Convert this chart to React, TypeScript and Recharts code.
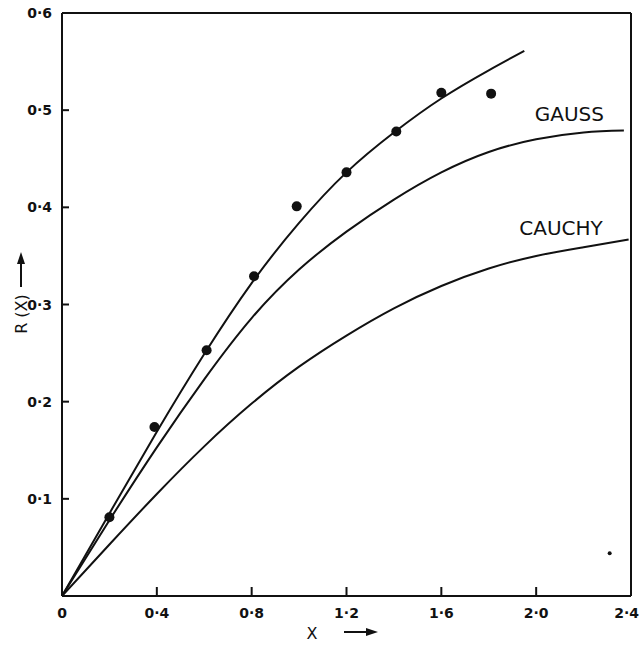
import React from 'react';
import { ComposedChart, Line, Scatter, XAxis, YAxis, ReferenceLine, ReferenceDot } from 'recharts';

// Fitted curve through experimental points
const fitX = [0, 0.2, 0.4, 0.6, 0.8, 1.0, 1.2, 1.4, 1.6, 1.8, 1.95];
const fitY = [0, 0.085, 0.169, 0.249, 0.322, 0.384, 0.436, 0.477, 0.512, 0.541, 0.561];
// Gauss curve
const gaussX = [0, 0.2, 0.4, 0.6, 0.8, 1.0, 1.2, 1.4, 1.6, 1.8, 2.0, 2.2, 2.37];
const gaussY = [0, 0.078, 0.153, 0.223, 0.286, 0.336, 0.375, 0.408, 0.436, 0.457, 0.47, 0.477, 0.479];
// Cauchy curve
const cauchyX = [0, 0.2, 0.4, 0.6, 0.8, 1.0, 1.2, 1.4, 1.6, 1.8, 2.0, 2.2, 2.39];
const cauchyY = [0, 0.053, 0.105, 0.154, 0.198, 0.236, 0.268, 0.296, 0.319, 0.337, 0.35, 0.359, 0.367];
// Observed points
const obsX = [0.2, 0.39, 0.61, 0.81, 0.99, 1.2, 1.41, 1.6, 1.81];
const obsY = [0.081, 0.174, 0.253, 0.329, 0.401, 0.436, 0.478, 0.518, 0.517];
// Stray speck in the print
const speckX = [2.31];
const speckY = [0.044];

const xTicks = [0, 0.4, 0.8, 1.2, 1.6, 2.0, 2.4];
const yTicks = [0.1, 0.2, 0.3, 0.4, 0.5, 0.6];

const zip = (xs: number[], ys: number[]) => xs.map((x, i) => ({ x, y: ys[i] }));
const fitData = zip(fitX, fitY);
const gaussData = zip(gaussX, gaussY);
const cauchyData = zip(cauchyX, cauchyY);
const obsData = zip(obsX, obsY);
const speckData = zip(speckX, speckY);

const INK = '#111';
const FONT = '"DejaVu Sans", sans-serif';

const fmt = (v: number) => (v === 0 ? '0' : v.toFixed(1).replace('.', '·'));

const XTick = (props: any) => {
  const { x, y, payload } = props;
  const v = payload.value;
  const interior = v > 0 && v < 2.4;
  const last = v >= 2.4;
  return (
    <g>
      {interior && <line x1={x} y1={y} x2={x} y2={y - 9} stroke={INK} strokeWidth={2} />}
      <text
        x={last ? x + 8 : x}
        y={y + 17}
        textAnchor={last ? 'end' : 'middle'}
        dominantBaseline="central"
        fontFamily={FONT}
        fontSize={14}
        fontWeight="bold"
        fill={INK}
      >
        {fmt(v)}
      </text>
    </g>
  );
};

const YTick = (props: any) => {
  const { x, y, payload } = props;
  const v = payload.value;
  return (
    <g>
      {v < 0.6 && <line x1={x} y1={y} x2={x + 7} y2={y} stroke={INK} strokeWidth={2} />}
      <text
        x={x - 10}
        y={y}
        textAnchor="end"
        dominantBaseline="central"
        fontFamily={FONT}
        fontSize={14}
        fontWeight="bold"
        fill={INK}
      >
        {fmt(v)}
      </text>
    </g>
  );
};

const XTitle = (props: any) => {
  const vb = props.viewBox || { x: 62, y: 596, width: 569, height: 50 };
  const cx = vb.x + 250;
  const cy = vb.y + 37;
  return (
    <g>
      <text x={cx} y={cy} textAnchor="middle" dominantBaseline="central" fontFamily={FONT} fontSize={16} fill={INK}>
        X
      </text>
      <line x1={cx + 32} y1={cy - 1} x2={cx + 56} y2={cy - 1} stroke={INK} strokeWidth={2} />
      <path d={`M${cx + 66},${cy - 1} L${cx + 54},${cy - 5} L${cx + 54},${cy + 3} Z`} fill={INK} />
    </g>
  );
};

const YTitle = (props: any) => {
  const vb = props.viewBox || { x: 0, y: 13, width: 62, height: 583 };
  const cx = vb.x + 21;
  const cy = vb.y + 301;
  return (
    <g>
      <text
        x={cx}
        y={cy}
        textAnchor="middle"
        dominantBaseline="central"
        fontFamily={FONT}
        fontSize={16}
        fill={INK}
        transform={`rotate(-90 ${cx} ${cy})`}
      >
        R (X)
      </text>
      <line x1={cx} y1={cy - 27} x2={cx} y2={cy - 52} stroke={INK} strokeWidth={2} />
      <path d={`M${cx},${cy - 62} L${cx - 4},${cy - 50} L${cx + 4},${cy - 50} Z`} fill={INK} />
    </g>
  );
};

const CurveLabel = (text: string) => (props: any) => {
  const vb = props.viewBox || {};
  return (
    <text x={vb.x} y={vb.y} textAnchor="middle" dominantBaseline="central" fontFamily={FONT} fontSize={20} fill={INK}>
      {text}
    </text>
  );
};

export default function App() {
  return (
    <div style={{ position: 'absolute', left: 0, top: 0, background: '#fff' }}>
      <ComposedChart width={640} height={646} margin={{ top: 13, right: 9, left: 0, bottom: 0 }}>
        <XAxis
          type="number"
          dataKey="x"
          domain={[0, 2.4]}
          ticks={xTicks}
          allowDataOverflow
          height={50}
          axisLine={{ stroke: INK, strokeWidth: 2 }}
          tickLine={false}
          tickSize={0}
          tickMargin={0}
          tick={<XTick />}
          interval={0}
          label={<XTitle />}
        />
        <YAxis
          type="number"
          dataKey="y"
          domain={[0, 0.6]}
          ticks={yTicks}
          allowDataOverflow
          width={62}
          axisLine={{ stroke: INK, strokeWidth: 2 }}
          tickLine={false}
          tickSize={0}
          tickMargin={0}
          tick={<YTick />}
          interval={0}
          label={<YTitle />}
        />
        <ReferenceLine y={0.6} stroke={INK} strokeWidth={2} />
        <ReferenceLine x={2.4} stroke={INK} strokeWidth={2} />
        <Line data={fitData} dataKey="y" type="natural" stroke={INK} strokeWidth={2} dot={false} isAnimationActive={false} />
        <Line data={gaussData} dataKey="y" type="natural" stroke={INK} strokeWidth={2} dot={false} isAnimationActive={false} />
        <Line data={cauchyData} dataKey="y" type="natural" stroke={INK} strokeWidth={2} dot={false} isAnimationActive={false} />
        <Scatter
          data={obsData}
          dataKey="y"
          fill={INK}
          isAnimationActive={false}
          shape={(p: any) => <circle cx={p.cx} cy={p.cy} r={5} fill={INK} />}
        />
        <Scatter
          data={speckData}
          dataKey="y"
          fill={INK}
          isAnimationActive={false}
          shape={(p: any) => <circle cx={p.cx} cy={p.cy} r={2} fill={INK} />}
        />
        <ReferenceDot x={2.14} y={0.496} r={0} stroke="none" fill="none" label={CurveLabel('GAUSS')} />
        <ReferenceDot x={2.105} y={0.379} r={0} stroke="none" fill="none" label={CurveLabel('CAUCHY')} />
      </ComposedChart>
    </div>
  );
}
